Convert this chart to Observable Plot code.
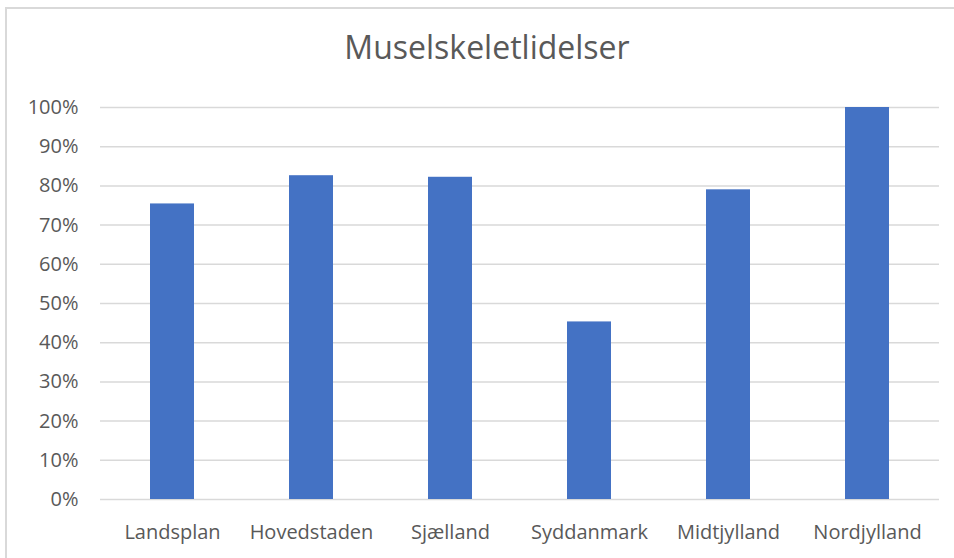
<!DOCTYPE html>
<html>
<head>
<meta charset="utf-8">
<script src="https://cdn.jsdelivr.net/npm/d3@7"></script>
<script src="https://cdn.jsdelivr.net/npm/@observablehq/plot@0.6"></script>
<style>
  html, body { margin: 0; padding: 0; background: #fff; }
  #wrap { position: relative; width: 954px; height: 558px; overflow: hidden; background: #fff; }
  #frame { position: absolute; left: 5px; top: 7px; width: 980px; height: 600px; border-top: 2px solid #d9d9d9; border-left: 2px solid #d9d9d9; box-sizing: border-box; }
  #title { position: absolute; left: 0; width: 974px; top: 28px; text-align: center; font-family: "Open Sans", sans-serif; font-size: 32px; color: #595959; line-height: 1.2; }
  #chart { position: absolute; left: 0; top: 0; }
</style>
</head>
<body>
<div id="wrap">
  <div id="frame"></div>
  <div id="title">Muselskeletlidelser</div>
  <div id="chart"></div>
</div>
<script>
const categories = ["Landsplan", "Hovedstaden", "Sjælland", "Syddanmark", "Midtjylland", "Nordjylland"];
const values = [0.754, 0.826, 0.822, 0.453, 0.790, 1.0];
const yTicks = [0, 0.1, 0.2, 0.3, 0.4, 0.5, 0.6, 0.7, 0.8, 0.9, 1.0];

const data = categories.map((c, i) => ({category: c, value: values[i]}));

const chart = Plot.plot({
  width: 954,
  height: 558,
  marginTop: 107,
  marginBottom: 59,
  marginLeft: 100,
  marginRight: 15,
  style: {fontFamily: "Open Sans, sans-serif", fontSize: "20px", color: "#595959", background: "transparent", overflow: "visible"},
  x: {domain: categories, paddingInner: 0.68, paddingOuter: 0.34, label: null},
  y: {domain: [0, 1], ticks: yTicks, tickFormat: d3.format(".0%"), label: null},
  marks: [
    Plot.gridY(yTicks, {stroke: "#d9d9d9", strokeOpacity: 1, strokeWidth: 1.5}),
    Plot.barY(data, {x: "category", y: "value", fill: "#4472C4"}),
    Plot.axisY(yTicks, {tickSize: 0, tickPadding: 22, tickFormat: d3.format(".0%"), fill: "#595959", fontSize: 20, label: null}),
    Plot.axisX({tickSize: 0, tickPadding: 25, fill: "#595959", fontSize: 20, label: null})
  ]
});
document.getElementById("chart").appendChild(chart);
</script>
</body>
</html>
